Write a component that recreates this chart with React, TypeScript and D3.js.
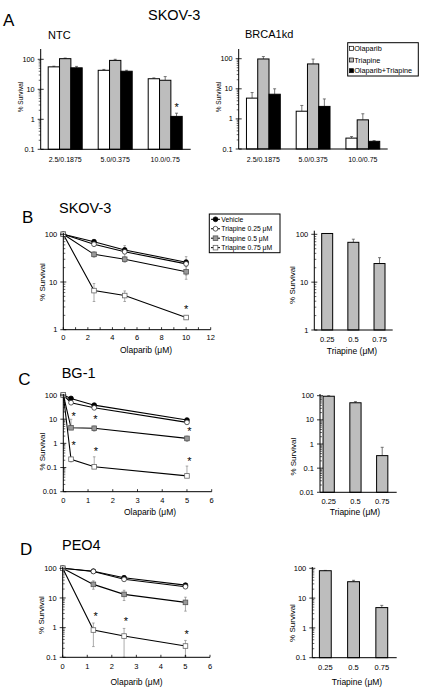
import React from "react";
import * as d3 from "d3";

const FONT = "'Liberation Sans', Arial, Helvetica, sans-serif";

// ---------- Panel A data ----------
const aCategories = ["2.5/0.1875", "5.0/0.375", "10.0/0.75"];
const aSeriesNames = ["Olaparib", "Triapine", "Olaparib+Triapine"];
const ntcOlaparib = [56, 43, 22.5];
const ntcOlaparibErr = [3, 3, 1.5];
const ntcTriapine = [105, 92, 20];
const ntcTriapineErr = [5, 8, 6.5];
const ntcCombo = [52, 40, 1.25];
const ntcComboErr = [6, 3, 0.35];
const brcaOlaparib = [4.9, 1.8, 0.23];
const brcaOlaparibErr = [2.6, 1.0, 0.03];
const brcaTriapine = [98, 67, 0.93];
const brcaTriapineErr = [20, 30, 0.55];
const brcaCombo = [6.6, 2.6, 0.18];
const brcaComboErr = [3.4, 2.0, 0.01];
const ntcStars = [{ cat: "10.0/0.75", series: 2, value: 3.0 }];

// ---------- Line chart data ----------
const lineSeriesNames = ["Vehicle", "Triapine 0.25 \u03bcM", "Triapine 0.5 \u03bcM", "Triapine 0.75 \u03bcM"];

const skovOlaparib = [0, 2.5, 5, 10];
const skovVehicle = [100, 70, 47, 26];
const skovVehicleErr = [6, 4, 5, 3];
const skovTri025 = [100, 62, 43, 24];
const skovTri025Err = [0, 5, 15, 10];
const skovTri05 = [100, 38, 30, 16.4];
const skovTri05Err = [0, 5, 4, 5];
const skovTri075 = [100, 6.6, 5.2, 1.8];
const skovTri075Err = [0, 2.7, 1.3, 0.15];
const skovStars = [[10, 3.0]];

const bg1Olaparib = [0, 0.3125, 1.25, 5];
const bg1Vehicle = [100, 72, 38, 9.2];
const bg1VehicleErr = [0, 3, 3, 1];
const bg1Tri025 = [100, 48, 29.5, 7.4];
const bg1Tri025Err = [0, 3, 3, 1];
const bg1Tri05 = [100, 4.4, 4.2, 1.6];
const bg1Tri05Err = [0, 5.5, 1, 0.4];
const bg1Tri075 = [100, 0.22, 0.107, 0.045];
const bg1Tri075Err = [0, 0.05, 0.17, 0.07];
const bg1Stars = [[0.42, 16], [0.42, 1.05], [1.3, 12], [1.32, 0.56], [5.1, 3.8], [5.1, 0.23]];

const peo4Olaparib = [0, 1.25, 2.5, 5];
const peo4Vehicle = [100, 80, 48, 27];
const peo4VehicleErr = [0, 3, 3, 2];
const peo4Tri025 = [100, 78, 42.5, 24];
const peo4Tri025Err = [0, 4, 4, 3];
const peo4Tri05 = [100, 28.7, 13.2, 7.1];
const peo4Tri05Err = [0, 9, 5, 3.5];
const peo4Tri075 = [100, 0.83, 0.52, 0.24];
const peo4Tri075Err = [0, 0.6, 0.42, 0.13];
const peo4Stars = [[1.34, 2.9], [2.57, 1.95], [5.05, 0.73]];

// ---------- Triapine alone ----------
const triapineDoses = ["0.25", "0.5", "0.75"];
const skovTriAlone = [104, 68, 24.5];
const skovTriAloneErr = [0, 11, 8];
const bg1TriAlone = [95, 51, 0.33];
const bg1TriAloneErr = [5, 6, 0.4];
const peo4TriAlone = [83, 35.5, 4.8];
const peo4TriAloneErr = [2, 4, 0.9];

const GRAY = "#bdbdbd";
const barFills = ["#ffffff", GRAY, "#000000"];

const isDecade = (t: number) => Math.abs(Math.log10(t) - Math.round(Math.log10(t))) < 1e-6;
const fmt = d3.format("~g");

function LogYAxis({ y, x, top, fs, minorDir }: any) {
  const [d0, d1] = y.domain();
  const ticks = y.ticks().filter((t: number) => t >= d0 * 0.999 && t <= d1 * 1.001);
  return (
    <g>
      <line x1={x} x2={x} y1={top} y2={y(d0)} stroke="#000" strokeWidth={1} />
      {ticks.map((t: number, i: number) => {
        const major = isDecade(t);
        const yy = y(t);
        return (
          <g key={i}>
            {major ? (
              <line x1={x - 3} x2={x + 3} y1={yy} y2={yy} stroke="#000" strokeWidth={0.8} />
            ) : (
              <line x1={x} x2={x + 2 * minorDir} y1={yy} y2={yy} stroke="#000" strokeWidth={0.6} />
            )}
            {major && (
              <text x={x - 6} y={yy} dy="0.35em" textAnchor="end" fontSize={fs} fontFamily={FONT} fill="#000">
                {fmt(t)}
              </text>
            )}
          </g>
        );
      })}
    </g>
  );
}

function YTitle({ x, y, fs, text }: any) {
  return (
    <text transform={`translate(${x},${y}) rotate(-90)`} textAnchor="middle" fontSize={fs} fontFamily={FONT} fill="#000">
      {text}
    </text>
  );
}

function Star({ x, y }: any) {
  return (
    <text x={x} y={y + 6} textAnchor="middle" fontSize={11} fontFamily={FONT} fill="#000">
      *
    </text>
  );
}

function GroupedBars({ cats, series, y, band, axisX0, axisX1, groupFrac, fs, labelY, stars }: any) {
  const xb = d3.scaleBand().domain(cats).range(band).padding(0);
  const gw = xb.bandwidth() * groupFrac;
  const inner = d3.scaleBand().domain(series.map((_: any, i: number) => String(i))).range([0, gw]).padding(0);
  const base = y.domain()[0];
  return (
    <g>
      {cats.map((c: string, ci: number) => {
        const gx = (xb(c) as number) + xb.bandwidth() / 2 - gw / 2;
        return (
          <g key={c}>
            {series.map((s: any, si: number) => {
              const bx = gx + (inner(String(si)) as number);
              const v = s.values[ci];
              const e = s.errs[ci];
              const cx = bx + inner.bandwidth() / 2;
              return (
                <g key={si}>
                  {e > 0 && (
                    <g>
                      <line x1={cx} x2={cx} y1={y(v)} y2={y(v + e)} stroke="#555" strokeWidth={0.8} />
                      <line x1={cx - 1.5} x2={cx + 1.5} y1={y(v + e)} y2={y(v + e)} stroke="#555" strokeWidth={0.8} />
                    </g>
                  )}
                  <rect x={bx} y={y(v)} width={inner.bandwidth()} height={y(base) - y(v)} fill={s.fill} stroke="#000" strokeWidth={1} />
                </g>
              );
            })}
            <text x={(xb(c) as number) + xb.bandwidth() / 2} y={labelY} textAnchor="middle" fontSize={fs} fontFamily={FONT} fill="#000">
              {c}
            </text>
          </g>
        );
      })}
      {(stars || []).map((st: any, i: number) => {
        const gx = (xb(st.cat) as number) + xb.bandwidth() / 2 - gw / 2;
        const cx = gx + (inner(String(st.series)) as number) + inner.bandwidth() / 2;
        return <Star key={i} x={cx} y={y(st.value)} />;
      })}
      <line x1={axisX0} x2={axisX1} y1={y(base)} y2={y(base)} stroke="#000" strokeWidth={1} />
    </g>
  );
}

function Marker({ kind, x, y }: any) {
  const s = 4.6;
  if (kind === 0) return <circle cx={x} cy={y} r={2.4} fill="#000" stroke="#000" strokeWidth={0.8} />;
  if (kind === 1) return <circle cx={x} cy={y} r={2.4} fill="#fff" stroke="#333" strokeWidth={0.8} />;
  if (kind === 2) return <rect x={x - s / 2} y={y - s / 2} width={s} height={s} fill="#999" stroke="#555" strokeWidth={0.8} />;
  return <rect x={x - s / 2} y={y - s / 2} width={s} height={s} fill="#fff" stroke="#666" strokeWidth={0.8} />;
}

function LineChart({ xs, series, x, y, xTicks, xLabelEvery, fs, labelY, stars }: any) {
  const base = y.domain()[0];
  const line = d3.line<[number, number]>().x((d) => x(d[0])).y((d) => y(d[1]));
  const [x0, x1] = x.range();
  return (
    <g>
      {series.map((s: any, si: number) => (
        <path key={"l" + si} d={line(xs.map((xv: number, i: number) => [xv, s.values[i]])) as string} fill="none" stroke="#000" strokeWidth={1.1} />
      ))}
      {series.map((s: any, si: number) =>
        xs.map((xv: number, i: number) => {
          const e = s.errs[i];
          if (!e) return null;
          const v = s.values[i];
          const hasLo = v - e > base;
          const lo = hasLo ? v - e : v;
          const hi = v + e;
          const cx = x(xv);
          return (
            <g key={"e" + si + "-" + i}>
              <line x1={cx} x2={cx} y1={y(lo)} y2={y(hi)} stroke="#888" strokeWidth={0.7} />
              <line x1={cx - 1.3} x2={cx + 1.3} y1={y(hi)} y2={y(hi)} stroke="#888" strokeWidth={0.7} />
              {hasLo && <line x1={cx - 1.3} x2={cx + 1.3} y1={y(lo)} y2={y(lo)} stroke="#888" strokeWidth={0.7} />}
            </g>
          );
        })
      )}
      {series.map((s: any, si: number) =>
        xs.map((xv: number, i: number) => <Marker key={"m" + si + "-" + i} kind={si} x={x(xv)} y={y(s.values[i])} />)
      )}
      {(stars || []).map((st: number[], i: number) => (
        <Star key={"s" + i} x={x(st[0])} y={y(st[1])} />
      ))}
      <line x1={x0} x2={x1} y1={y(base)} y2={y(base)} stroke="#000" strokeWidth={1} />
      {xTicks.map((t: number, i: number) => (
        <g key={"t" + i}>
          <line x1={x(t)} x2={x(t)} y1={y(base)} y2={y(base) - 2.5} stroke="#000" strokeWidth={0.8} />
          {i % xLabelEvery === 0 && (
            <text x={x(t)} y={labelY} textAnchor="middle" fontSize={fs} fontFamily={FONT} fill="#000">
              {fmt(t)}
            </text>
          )}
        </g>
      ))}
    </g>
  );
}

function LineLegend({ x, y, w, h, step }: any) {
  return (
    <g>
      <rect x={x} y={y} width={w} height={h} fill="#fff" stroke="#000" strokeWidth={1} />
      {lineSeriesNames.map((n, i) => {
        const yy = y + 5.3 + i * step;
        return (
          <g key={n}>
            <line x1={x + 1.7} x2={x + 10.7} y1={yy} y2={yy} stroke="#000" strokeWidth={1} />
            <Marker kind={i} x={x + 6.2} y={yy} />
            <text x={x + 12} y={yy} dy="0.35em" fontSize={6.8} fontFamily={FONT} fill="#000">
              {n}
            </text>
          </g>
        );
      })}
    </g>
  );
}

function BarLegend({ x, y, w, h }: any) {
  const ys = [5.6, 17.3, 28];
  return (
    <g>
      <rect x={x} y={y} width={w} height={h} fill="#fff" stroke="#000" strokeWidth={1} />
      {aSeriesNames.map((n, i) => (
        <g key={n}>
          <rect x={x + 1.8} y={y + ys[i] - 2} width={4} height={4} fill={barFills[i]} stroke="#000" strokeWidth={0.7} />
          <text x={x + 6.5} y={y + ys[i]} dy="0.35em" fontSize={7.3} fontFamily={FONT} fill="#000">
            {n}
          </text>
        </g>
      ))}
    </g>
  );
}

function lineSeries(v: number[][], e: number[][]) {
  return v.map((values, i) => ({ values, errs: e[i] }));
}

export default function App() {
  // Panel A scales
  const yNtc = d3.scaleLog().domain([0.1, 100]).range([149.3, 59.3]);
  const yBrca = d3.scaleLog().domain([0.1, 100]).range([149, 58.7]);
  const ntcSeries = [
    { values: ntcOlaparib, errs: ntcOlaparibErr, fill: barFills[0] },
    { values: ntcTriapine, errs: ntcTriapineErr, fill: barFills[1] },
    { values: ntcCombo, errs: ntcComboErr, fill: barFills[2] },
  ];
  const brcaSeries = [
    { values: brcaOlaparib, errs: brcaOlaparibErr, fill: barFills[0] },
    { values: brcaTriapine, errs: brcaTriapineErr, fill: barFills[1] },
    { values: brcaCombo, errs: brcaComboErr, fill: barFills[2] },
  ];

  // Panel B
  const xB = d3.scaleLinear().domain([0, 12]).range([63.3, 210.7]);
  const yB = d3.scaleLog().domain([1, 100]).range([329.7, 234.3]);
  const yBr = d3.scaleLog().domain([1, 100]).range([330, 234.3]);
  // Panel C
  const xC = d3.scaleLinear().domain([0, 6]).range([63.3, 211.7]);
  const yC = d3.scaleLog().domain([0.01, 100]).range([491.7, 395]);
  const yCr = d3.scaleLog().domain([0.01, 100]).range([492.3, 395.7]);
  // Panel D
  const xD = d3.scaleLinear().domain([0, 6]).range([62.7, 210]);
  const yD = d3.scaleLog().domain([0.1, 100]).range([657.3, 568.3]);
  const yDr = d3.scaleLog().domain([0.1, 100]).range([657.7, 568.3]);

  const skovSeries = lineSeries(
    [skovVehicle, skovTri025, skovTri05, skovTri075],
    [skovVehicleErr, skovTri025Err, skovTri05Err, skovTri075Err]
  );
  const bg1Series = lineSeries(
    [bg1Vehicle, bg1Tri025, bg1Tri05, bg1Tri075],
    [bg1VehicleErr, bg1Tri025Err, bg1Tri05Err, bg1Tri075Err]
  );
  const peo4Series = lineSeries(
    [peo4Vehicle, peo4Tri025, peo4Tri05, peo4Tri075],
    [peo4VehicleErr, peo4Tri025Err, peo4Tri05Err, peo4Tri075Err]
  );

  const bigLetter = { fontSize: 17, fontFamily: FONT, fill: "#000" };
  const title = { fontSize: 14.5, fontFamily: FONT, fill: "#000" };

  return (
    <svg
      width={432}
      height={692}
      viewBox="0 0 432 692"
      style={{ position: "absolute", left: 0, top: 0, background: "#fff" }}
    >
      <rect x={0} y={0} width={432} height={692} fill="#fff" />

      {/* ---------------- Panel A ---------------- */}
      <text x={3} y={25.5} {...bigLetter}>A</text>
      <text x={148} y={20} {...title}>SKOV-3</text>
      <text x={48} y={39} fontSize={11} fontFamily={FONT}>NTC</text>
      <text x={245} y={38} fontSize={11} fontFamily={FONT}>BRCA1kd</text>

      <LogYAxis y={yNtc} x={40.7} top={49} fs={7.3} minorDir={-1} />
      <YTitle x={23} y={97} fs={6.5} text="% Survival" />
      <GroupedBars cats={aCategories} series={ntcSeries} y={yNtc} band={[40.2, 190.2]} axisX0={40.7} axisX1={190.7}
        groupFrac={0.68} fs={7} labelY={161.5} stars={ntcStars} />

      <LogYAxis y={yBrca} x={238.7} top={49} fs={7.3} minorDir={-1} />
      <YTitle x={220.5} y={97} fs={6.5} text="% Survival" />
      <GroupedBars cats={aCategories} series={brcaSeries} y={yBrca} band={[238.5, 387.7]} axisX0={238.7} axisX1={387.7}
        groupFrac={0.68} fs={7} labelY={161.5} />
      <BarLegend x={347.7} y={42.7} w={70.6} h={33.3} />

      {/* ---------------- Panel B ---------------- */}
      <text x={22} y={223.3} {...bigLetter}>B</text>
      <text x={59} y={213.3} {...title}>SKOV-3</text>
      <LineChart xs={skovOlaparib} series={skovSeries} x={xB} y={yB} xTicks={d3.range(0, 13, 1)} xLabelEvery={2}
        fs={7.5} labelY={340} stars={skovStars} />
      <LogYAxis y={yB} x={63.3} top={233} fs={7.5} minorDir={1} />
      <YTitle x={44.5} y={282} fs={8} text="% Survival" />
      <text x={146} y={352.5} textAnchor="middle" fontSize={8.5} fontFamily={FONT}>Olaparib (μM)</text>
      <LineLegend x={209.3} y={214} w={70.7} h={38.7} step={9.45} />

      <GroupedBars cats={triapineDoses} series={[{ values: skovTriAlone, errs: skovTriAloneErr, fill: GRAY }]} y={yBr}
        band={[314.1, 392.6]} axisX0={314.3} axisX1={392.7} groupFrac={0.42} fs={7.5} labelY={342} />
      <LogYAxis y={yBr} x={314.3} top={230.7} fs={7.5} minorDir={1} />
      <YTitle x={294.5} y={285} fs={8} text="% Survival" />
      <text x={352} y={353.5} textAnchor="middle" fontSize={8.5} fontFamily={FONT}>Triapine (μM)</text>

      {/* ---------------- Panel C ---------------- */}
      <text x={18.3} y={385} {...bigLetter}>C</text>
      <text x={61.7} y={378.3} {...title}>BG-1</text>
      <LineChart xs={bg1Olaparib} series={bg1Series} x={xC} y={yC} xTicks={d3.range(0, 7, 1)} xLabelEvery={1}
        fs={7.5} labelY={502.5} stars={bg1Stars} />
      <LogYAxis y={yC} x={63.3} top={394} fs={7.5} minorDir={1} />
      <YTitle x={44.5} y={451.7} fs={8} text="% Survival" />
      <text x={150} y={514.5} textAnchor="middle" fontSize={8.5} fontFamily={FONT}>Olaparib (μM)</text>

      <GroupedBars cats={triapineDoses} series={[{ values: bg1TriAlone, errs: bg1TriAloneErr, fill: GRAY }]} y={yCr}
        band={[315.3, 395.6]} axisX0={320} axisX1={396.7} groupFrac={0.42} fs={7.5} labelY={504} />
      <LogYAxis y={yCr} x={320} top={394} fs={7.5} minorDir={1} />
      <YTitle x={296} y={456.7} fs={8} text="% Survival" />
      <text x={355} y={514.5} textAnchor="middle" fontSize={8.5} fontFamily={FONT}>Triapine (μM)</text>

      {/* ---------------- Panel D ---------------- */}
      <text x={20} y={555} {...bigLetter}>D</text>
      <text x={62} y={550} {...title}>PEO4</text>
      <LineChart xs={peo4Olaparib} series={peo4Series} x={xD} y={yD} xTicks={d3.range(0, 7, 1)} xLabelEvery={1}
        fs={7.5} labelY={668.5} stars={peo4Stars} />
      <LogYAxis y={yD} x={62.7} top={567} fs={7.5} minorDir={1} />
      <YTitle x={43.5} y={615} fs={8} text="% Survival" />
      <text x={136.5} y={684.5} textAnchor="middle" fontSize={8.5} fontFamily={FONT}>Olaparib (μM)</text>

      <GroupedBars cats={triapineDoses} series={[{ values: peo4TriAlone, errs: peo4TriAloneErr, fill: GRAY }]} y={yDr}
        band={[311.2, 395.9]} axisX0={312.3} axisX1={396.7} groupFrac={0.42} fs={7.5} labelY={670} />
      <LogYAxis y={yDr} x={312.3} top={567} fs={7.5} minorDir={1} />
      <YTitle x={294.5} y={623} fs={8} text="% Survival" />
      <text x={357} y={684.5} textAnchor="middle" fontSize={8.5} fontFamily={FONT}>Triapine (μM)</text>
    </svg>
  );
}
